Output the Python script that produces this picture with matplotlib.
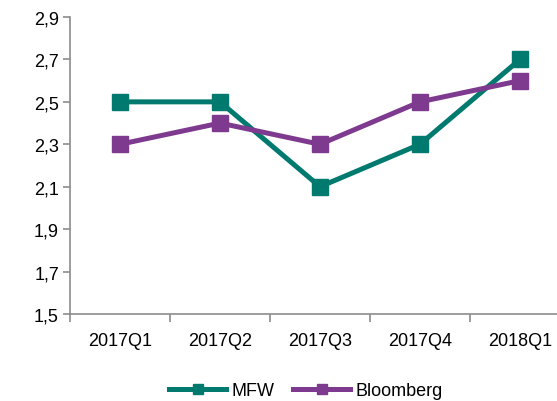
import matplotlib
matplotlib.use("Agg")
import matplotlib.pyplot as plt

# Data
quarters = ["2017Q1", "2017Q2", "2017Q3", "2017Q4", "2018Q1"]
mfw = [2.5, 2.5, 2.1, 2.3, 2.7]
bloomberg = [2.3, 2.4, 2.3, 2.5, 2.6]

teal = "#007A6E"
purple = "#7E3A8E"
grey = "#8C8C8C"

plt.rcParams["font.family"] = ["Liberation Sans", "DejaVu Sans"]

fig = plt.figure(figsize=(5.57, 4.02), dpi=100)
W, H = 557, 402
ax = fig.add_axes([70 / W, 1 - 315 / H, 500 / W, (315 - 18) / H])

xs = range(len(quarters))
ax.plot(xs, mfw, color=teal, lw=3.6, marker="s", ms=11, label="MFW")
ax.plot(xs, bloomberg, color=purple, lw=3.6, marker="s", ms=11, label="Bloomberg")

ax.set_xlim(-0.5, len(quarters) - 0.5)
ax.set_ylim(1.5, 2.9)
ax.set_yticks([1.5, 1.7, 1.9, 2.1, 2.3, 2.5, 2.7, 2.9])
ax.set_yticklabels(["1,5", "1,7", "1,9", "2,1", "2,3", "2,5", "2,7", "2,9"], fontsize=13)
ax.set_xticks(list(xs))
ax.set_xticklabels(quarters, fontsize=13)
ax.set_xticks([i - 0.5 for i in range(len(quarters) + 1)], minor=True)
ax.tick_params(axis="x", which="major", length=0, pad=13)
ax.tick_params(axis="x", which="minor", length=5.5, color=grey, width=1.2)
ax.tick_params(axis="y", length=5, color=grey, width=1.2, pad=3)

for side in ["top", "right"]:
    ax.spines[side].set_visible(False)
for side in ["left", "bottom"]:
    ax.spines[side].set_color(grey)
    ax.spines[side].set_linewidth(1.2)

ax.legend(loc="center", bbox_to_anchor=(306 / W, 1 - 392 / H), bbox_transform=fig.transFigure,
          ncol=2, frameon=False, fontsize=13, handlelength=3.15, columnspacing=1.05,
          handletextpad=0.3, markerscale=0.7, borderpad=0)

fig.savefig("out.png", dpi=100)
